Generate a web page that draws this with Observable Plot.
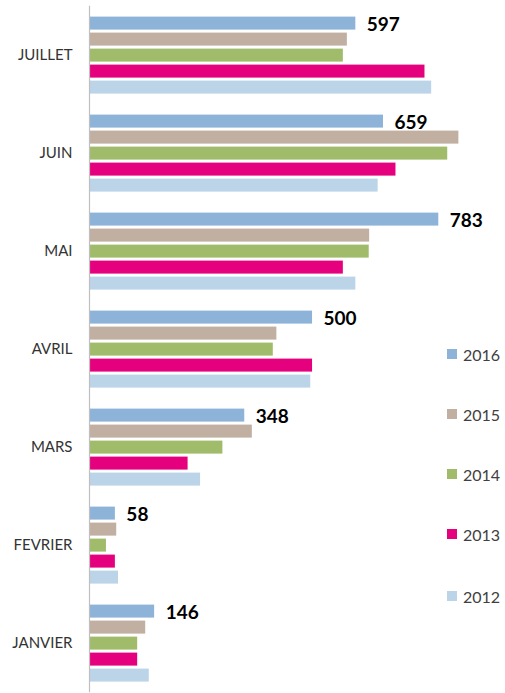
<!DOCTYPE html>
<html>
<head>
<meta charset="utf-8">
<script src="https://cdn.jsdelivr.net/npm/d3@7"></script>
<script src="https://cdn.jsdelivr.net/npm/@observablehq/plot@0.6"></script>
<style>
  html, body { margin: 0; padding: 0; background: #fff; }
  #wrap { position: relative; width: 505px; height: 693px; }
  #legend { position: absolute; left: 447px; top: 0; font-family: Lato, sans-serif; font-size: 16px; color: #404040; }
  .item { position: absolute; left: 0; display: flex; align-items: center; white-space: nowrap; }
  .sw { width: 10px; height: 10px; margin-right: 6px; }
</style>
</head>
<body>
<div id="wrap"><div id="legend"></div></div>
<script>
const months = ["JUILLET", "JUIN", "MAI", "AVRIL", "MARS", "FEVRIER", "JANVIER"];
const years = ["2016", "2015", "2014", "2013", "2012"];
const colors = ["#8db3d8", "#c1afa1", "#a0bc6b", "#e5007d", "#bcd4e8"];
const v2016 = [597, 659, 783, 500, 348, 58, 146];
const v2015 = [578, 828, 628, 420, 365, 61, 126];
const v2014 = [569, 803, 627, 412, 299, 38, 108];
const v2013 = [752, 687, 569, 500, 221, 58, 108];
const v2012 = [767, 647, 597, 496, 249, 65, 134];
const labelYear = "2016";

const series = {"2016": v2016, "2015": v2015, "2014": v2014, "2013": v2013, "2012": v2012};
const rows = [];
months.forEach((m, i) => years.forEach(y => rows.push({month: m, year: y, value: series[y][i]})));

const chart = Plot.plot({
  width: 505,
  height: 693,
  marginLeft: 89,
  marginRight: 14.5,
  marginTop: 12.4,
  marginBottom: 6.5,
  style: {fontFamily: "Lato, sans-serif", fontSize: "15px", color: "#333"},
  facet: {data: rows, y: "month"},
  fy: {domain: months, paddingInner: 0.163, paddingOuter: 0, axis: "left", tickSize: 0, tickPadding: 17, label: null},
  x: {domain: [0, 900], axis: null},
  y: {domain: years, paddingInner: 0.2, paddingOuter: 0.1, axis: null},
  color: {domain: years, range: colors},
  marks: [
    Plot.barX(rows, {x: "value", y: "year", fill: "year"}),
    Plot.text(rows, {filter: d => d.year === labelYear, x: "value", y: "year", text: d => String(d.value),
      textAnchor: "start", dx: 11, dy: 1, fontWeight: "bold", fontSize: 19, fill: "#000"}),
    Plot.ruleX([0], {stroke: "#bfbfbf", strokeWidth: 1.2, insetTop: -8.3, insetBottom: -8.3})
  ]
});
document.getElementById("wrap").prepend(chart);

const legendY = [354, 414, 474, 534, 596];
const legend = document.getElementById("legend");
years.forEach((y, i) => {
  const item = document.createElement("div");
  item.className = "item";
  item.style.top = (legendY[i] - 10) + "px";
  item.style.height = "20px";
  const sw = document.createElement("span");
  sw.className = "sw";
  sw.style.background = colors[i];
  const t = document.createElement("span");
  t.textContent = y;
  item.append(sw, t);
  legend.append(item);
});
</script>
</body>
</html>
